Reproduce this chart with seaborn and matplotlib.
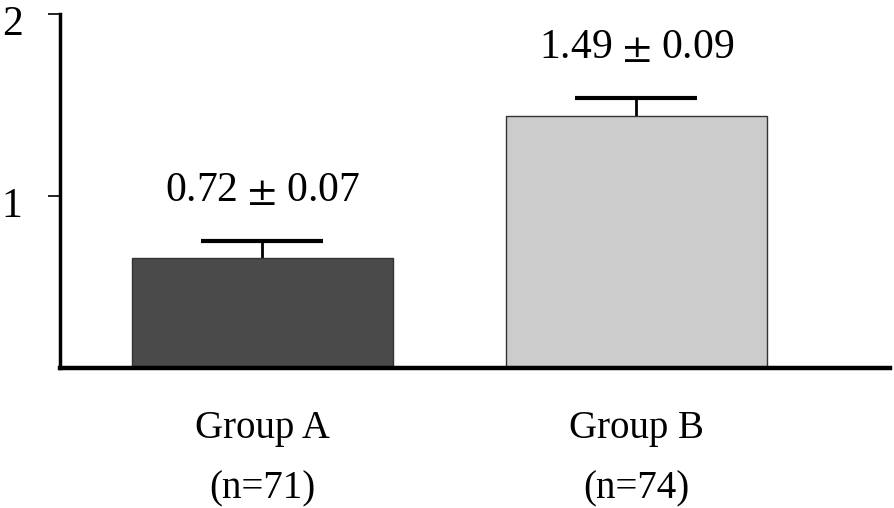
import matplotlib
matplotlib.use("Agg")
import matplotlib.pyplot as plt
import matplotlib.transforms as mtransforms
import seaborn as sns
import pandas as pd

# ---- data ----
groups = ["Group A", "Group B"]
n_labels = ["(n=71)", "(n=74)"]
means = [0.66, 1.44]          # bar heights as drawn
errs = [0.095, 0.10]          # upper error bar as drawn
value_labels = [r"0.72 $\pm$ 0.07", r"1.49 $\pm$ 0.09"]
bar_colors = ["#4a4a4a", "#cccccc"]
yticks = [1, 2]

sns.set_style("white")
plt.rcParams["font.family"] = ["Liberation Serif", "DejaVu Serif"]
plt.rcParams["mathtext.fontset"] = "stix"
plt.rcParams["text.color"] = "black"
plt.rcParams["xtick.color"] = "black"
plt.rcParams["ytick.color"] = "black"
plt.rcParams["axes.labelcolor"] = "black"

df = pd.DataFrame({"group": groups, "value": means})

fig = plt.figure(figsize=(8.94, 5.08), dpi=100)
ax = fig.add_axes([60 / 894, (508 - 368) / 508, (890 - 60) / 894, (368 - 14) / 508])

sns.barplot(data=df, x="group", y="value", hue="group", palette=bar_colors,
            width=0.698, edgecolor="#333333", linewidth=1.0, legend=False,
            errorbar=None, ax=ax, zorder=2)

xs = list(range(len(groups)))
cap_half = 0.163
tops = [m + e for m, e in zip(means, errs)]
ax.vlines(xs, means, tops, color="black", linewidth=2.0, zorder=1)
ax.hlines(tops, [x - cap_half for x in xs], [x + cap_half for x in xs],
          color="black", linewidth=3.0, zorder=1)

for x, t, lab in zip(xs, tops, value_labels):
    ax.text(x, t + 0.275, lab, ha="center", va="center", fontsize=30, color="black")

ax.set_xlim(-0.541, 1.678)
ax.set_ylim(0.055, 2.0)
ax.set_yticks(yticks)
ax.set_yticklabels([str(t) for t in yticks], fontsize=30)
ax.set_xticks(xs)
ax.set_xticklabels([f"{g}\n{n}" for g, n in zip(groups, n_labels)],
                   fontsize=28, linespacing=1.84)
ax.tick_params(axis="x", length=0, pad=30, labelcolor="black")
ax.tick_params(axis="y", length=9, width=1.2, color="black", pad=18, left=True,
               labelcolor="black")
ax.set_xlabel("")
ax.set_ylabel("")

offset = mtransforms.ScaledTranslation(0, -6 / 100, fig.dpi_scale_trans)
for lbl in ax.get_yticklabels():
    lbl.set_transform(lbl.get_transform() + offset)

for s in ["top", "right"]:
    ax.spines[s].set_visible(False)
ax.spines["left"].set_linewidth(2.5)
ax.spines["left"].set_color("black")
ax.spines["bottom"].set_linewidth(3.2)
ax.spines["bottom"].set_color("black")
ax.spines["bottom"].set_zorder(5)

fig.savefig("out.png", dpi=100)
